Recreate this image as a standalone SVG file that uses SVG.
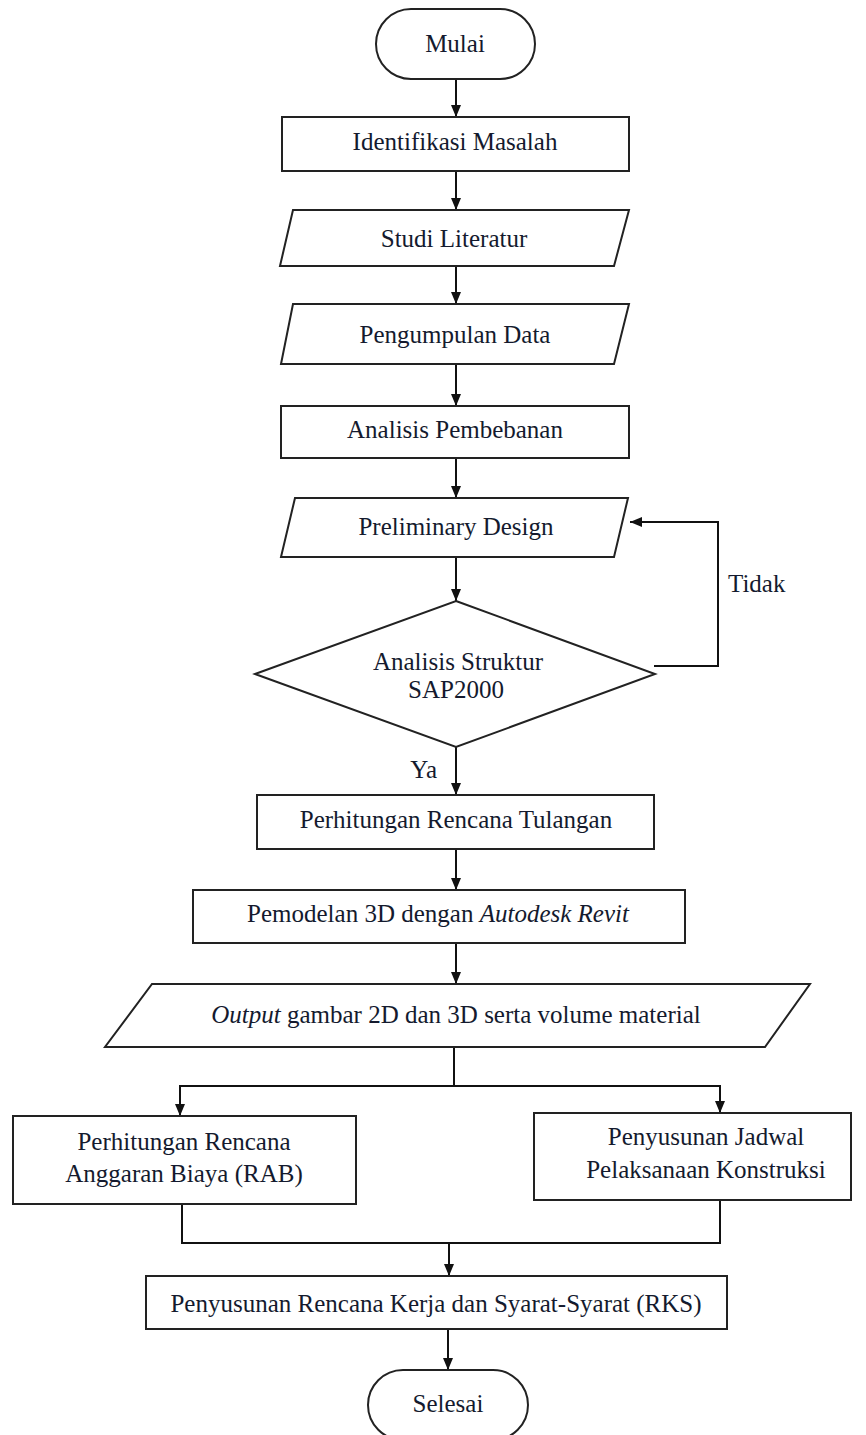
<svg xmlns="http://www.w3.org/2000/svg" width="866" height="1435" viewBox="0 0 866 1435">
<defs>
<marker id="ah" viewBox="0 0 12 10" refX="12" refY="5" markerWidth="12" markerHeight="10" orient="auto" markerUnits="userSpaceOnUse">
<path d="M0,0 L12,5 L0,10 z" fill="#111"/>
</marker>
<style>
.s{fill:#fff;stroke:#222;stroke-width:2}
.t{font-family:"Liberation Serif","Times New Roman",serif;font-size:25px;fill:#141a2e;text-anchor:middle}
.c{fill:none;stroke:#111;stroke-width:2}
.a{marker-end:url(#ah)}
</style>
</defs>
<rect width="866" height="1435" fill="#fff"/>
<g id="connectors">
<line class="c a" x1="456" y1="79" x2="456" y2="117"/>
<line class="c a" x1="456" y1="171" x2="456" y2="210"/>
<line class="c a" x1="456" y1="266" x2="456" y2="304"/>
<line class="c a" x1="456" y1="364" x2="456" y2="406"/>
<line class="c a" x1="456" y1="458" x2="456" y2="498"/>
<line class="c a" x1="456" y1="557" x2="456" y2="601"/>
<line class="c a" x1="456" y1="747" x2="456" y2="795"/>
<line class="c a" x1="456" y1="849" x2="456" y2="890"/>
<line class="c a" x1="456" y1="943" x2="456" y2="984"/>
<polyline class="c" points="654,666 718,666 718,522 640,522"/>
<line class="c a" x1="640" y1="522" x2="630" y2="522"/>
<polyline class="c" points="454,1047 454,1086"/>
<polyline class="c a" points="454,1086 180,1086 180,1116"/>
<polyline class="c a" points="454,1086 720,1086 720,1113"/>
<polyline class="c" points="182,1204 182,1243 720,1243 720,1200"/>
<line class="c a" x1="449" y1="1243" x2="449" y2="1276"/>
<line class="c a" x1="448" y1="1329" x2="448" y2="1370"/>
</g>
<g id="mulai">
<rect class="s" x="376" y="9" width="159" height="70" rx="35" ry="35"/>
<text class="t" x="455" y="52">Mulai</text>
</g>
<g id="identifikasi">
<rect class="s" x="282" y="117" width="347" height="54"/>
<text class="t" x="455" y="150">Identifikasi Masalah</text>
</g>
<g id="studi">
<polygon class="s" points="293,210 629,210 614,266 280,266"/>
<text class="t" x="454" y="247">Studi Literatur</text>
</g>
<g id="pengumpulan">
<polygon class="s" points="293,304 629,304 614,364 281,364"/>
<text class="t" x="455" y="343">Pengumpulan Data</text>
</g>
<g id="pembebanan">
<rect class="s" x="281" y="406" width="348" height="52"/>
<text class="t" x="455" y="438">Analisis Pembebanan</text>
</g>
<g id="preliminary">
<polygon class="s" points="295,498 628,498 614,557 281,557"/>
<text class="t" x="456" y="535">Preliminary Design</text>
</g>
<g id="analisis">
<polygon class="s" points="456,601 655,674 456,747 255,674"/>
<text class="t" x="458" y="670">Analisis Struktur</text>
<text class="t" x="456" y="698">SAP2000</text>
</g>
<g id="label-tidak">
<text class="t" x="728" y="592" style="text-anchor:start">Tidak</text>
</g>
<g id="label-ya">
<text class="t" x="437" y="778" style="text-anchor:end">Ya</text>
</g>
<g id="tulangan">
<rect class="s" x="257" y="795" width="397" height="54"/>
<text class="t" x="456" y="828">Perhitungan Rencana Tulangan</text>
</g>
<g id="pemodelan">
<rect class="s" x="193" y="890" width="492" height="53"/>
<text class="t" x="438" y="922">Pemodelan 3D dengan <tspan font-style="italic">Autodesk Revit</tspan></text>
</g>
<g id="output">
<polygon class="s" points="152,984 810,984 765,1047 105,1047"/>
<text class="t" x="456" y="1023"><tspan font-style="italic">Output</tspan> gambar 2D dan 3D serta volume material</text>
</g>
<g id="rab">
<rect class="s" x="13" y="1116" width="343" height="88"/>
<text class="t" x="184" y="1150">Perhitungan Rencana</text>
<text class="t" x="184" y="1182">Anggaran Biaya (RAB)</text>
</g>
<g id="jadwal">
<rect class="s" x="534" y="1113" width="317" height="87"/>
<text class="t" x="706" y="1145">Penyusunan Jadwal</text>
<text class="t" x="706" y="1178">Pelaksanaan Konstruksi</text>
</g>
<g id="rks">
<rect class="s" x="146" y="1276" width="581" height="53"/>
<text class="t" x="436" y="1312">Penyusunan Rencana Kerja dan Syarat-Syarat (RKS)</text>
</g>
<g id="selesai">
<rect class="s" x="368" y="1370" width="160" height="70" rx="35" ry="35"/>
<text class="t" x="448" y="1412">Selesai</text>
</g>
</svg>
